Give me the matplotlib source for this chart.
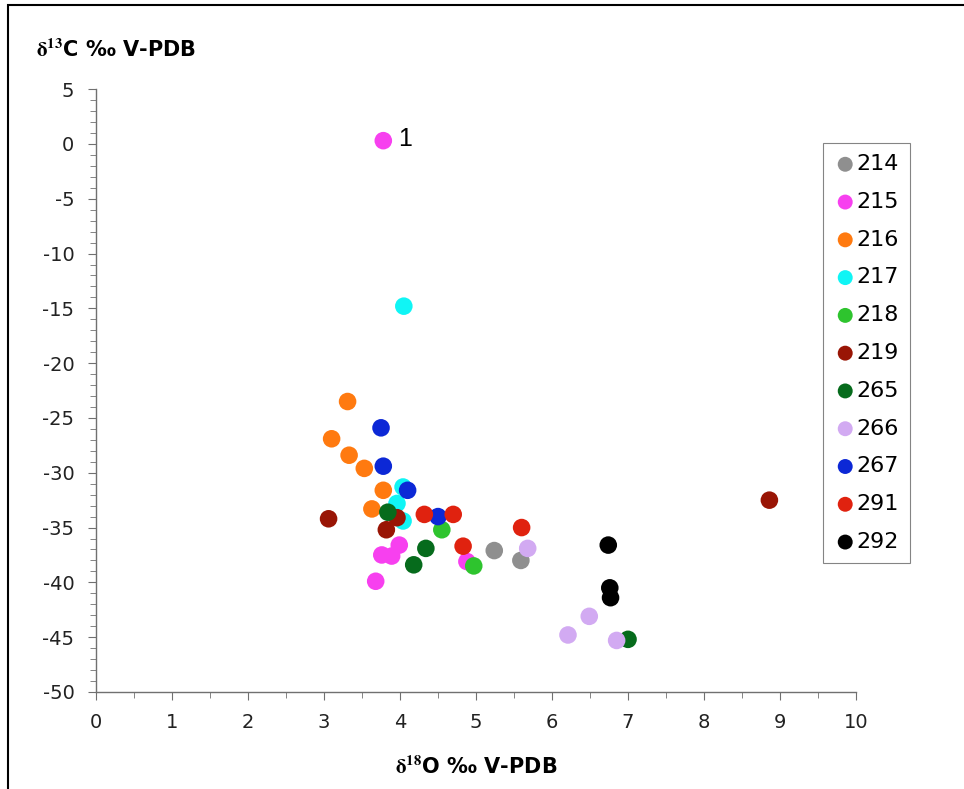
import matplotlib.pyplot as plt
from matplotlib.patches import Rectangle
from matplotlib.ticker import MultipleLocator

plt.rcParams['axes.unicode_minus'] = False
plt.rcParams['mathtext.fontset'] = 'stix'

# sample groups: d18O and d13C (per mil V-PDB)
groups = ['214', '215', '216', '217', '218', '219', '265', '266', '267', '291', '292']
colors = ['#8f8f8f', '#f740ef', '#ff7a10', '#10f5f5', '#2ec42e', '#991505',
          '#066b1c', '#d2aaf2', '#0c28d6', '#e0220f', '#000000']

d18O = {
    '214': [5.24, 5.59],
    '215': [3.78, 3.68, 3.76, 3.89, 3.99, 4.88],
    '216': [3.31, 3.10, 3.33, 3.53, 3.78, 3.63],
    '217': [4.05, 4.04, 3.96, 4.04],
    '218': [4.55, 4.97],
    '219': [3.06, 3.96, 3.82, 8.86],
    '265': [3.84, 4.34, 4.18, 7.00],
    '266': [5.68, 6.49, 6.21, 6.85],
    '267': [3.75, 3.78, 4.10, 4.50],
    '291': [4.32, 4.70, 4.83, 5.60],
    '292': [6.74, 6.76, 6.77],
}
d13C = {
    '214': [-37.1, -38.0],
    '215': [0.3, -39.9, -37.5, -37.6, -36.6, -38.1],
    '216': [-23.5, -26.9, -28.4, -29.6, -31.6, -33.3],
    '217': [-14.8, -31.3, -32.8, -34.4],
    '218': [-35.2, -38.5],
    '219': [-34.2, -34.1, -35.2, -32.5],
    '265': [-33.6, -36.9, -38.4, -45.2],
    '266': [-36.9, -43.1, -44.8, -45.3],
    '267': [-25.9, -29.4, -31.6, -34.0],
    '291': [-33.8, -33.8, -36.7, -35.0],
    '292': [-36.6, -40.5, -41.4],
}

fig = plt.figure(figsize=(9.64, 7.89), dpi=100)
ax = fig.add_axes([0.0996, 0.123, 0.7884, 0.764])

for g, c in zip(groups, colors):
    ax.scatter(d18O[g], d13C[g], s=160, color=c, edgecolors='none', label=g, zorder=3)

# label the outlier
ax.annotate('1', (d18O['215'][0], d13C['215'][0]), xytext=(11, 1),
            textcoords='offset points', fontsize=18, va='center', ha='left',
            family='Liberation Sans')

ax.set_xlim(0, 10)
ax.set_ylim(-50, 5)
ax.xaxis.set_major_locator(MultipleLocator(1))
ax.xaxis.set_minor_locator(MultipleLocator(0.5))
ax.yaxis.set_major_locator(MultipleLocator(5))
ax.yaxis.set_minor_locator(MultipleLocator(1))
for s in ['top', 'right']:
    ax.spines[s].set_visible(False)
for s in ['left', 'bottom']:
    ax.spines[s].set_color('#707070')
    ax.spines[s].set_linewidth(1.0)
ax.tick_params(which='both', direction='out', color='#707070', labelsize=14,
               labelcolor='#222222')
ax.tick_params(which='major', length=6)
ax.tick_params(which='minor', length=4.5)
ax.tick_params(axis='x', pad=9)
ax.tick_params(axis='y', pad=9.5)

fig.text(0.037, 1 - 50 / 789, r'$\mathbf{\delta^{13}}$C ‰ V-PDB', fontsize=15,
         fontweight='bold', ha='left', va='center')
fig.text(0.494, 1 - 767 / 789, r'$\mathbf{\delta^{18}}$O ‰ V-PDB', fontsize=15,
         fontweight='bold', ha='center', va='center')

leg = ax.legend(loc='upper left', bbox_to_anchor=(823 / 964, 1 - 143 / 789),
                bbox_transform=fig.transFigure, fontsize=16, frameon=True,
                fancybox=False, edgecolor='#666666', handletextpad=0.0,
                labelspacing=0.8, borderpad=0.5, borderaxespad=0,
                handlelength=1.0, markerscale=0.85)
leg.get_frame().set_linewidth(0.8)

# outer frame around the figure
fig.patches.append(Rectangle((8 / 964, -0.1), 1.2, 1 - 5 / 789 + 0.1,
                             transform=fig.transFigure, fill=False,
                             edgecolor='black', linewidth=1.5))

fig.savefig('out.png', dpi=100)
